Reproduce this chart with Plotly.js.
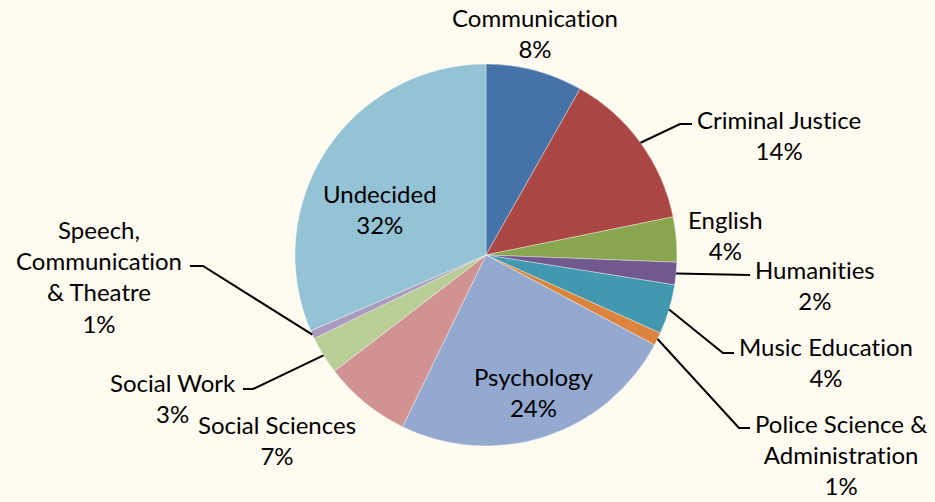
<!DOCTYPE html>
<html>
<head>
<meta charset="utf-8">
<script src="https://cdn.plot.ly/plotly-3.0.1.min.js"></script>
<style>html,body{margin:0;padding:0;background:#FFFBF0;}#chart{width:935px;height:502px;}
text{font-variant-ligatures:none;font-feature-settings:"liga" 0;}</style>
</head>
<body>
<div id="chart"></div>
<script>
// ---- data ----
var categories = ["Communication", "Criminal Justice", "English", "Humanities", "Music Education",
  "Police Science & Administration", "Psychology", "Social Sciences", "Social Work",
  "Speech, Communication & Theatre", "Undecided"];
var shares = [8.2, 13.6, 3.8, 1.9, 4.2, 1.1, 24.4, 7.4, 3.2, 0.7, 31.5];
var colors = ["#4572A7", "#AA4643", "#89A54E", "#71588F", "#4198AF", "#DB843D",
  "#93A9CF", "#D19392", "#B9CD96", "#A99BBD", "#93C3D5"];

// ---- layout (pixel geometry) ----
var W = 935, H = 502, CX = 486, CY = 255, R = 191;
var labelNames = ["Communication", "Criminal Justice", "English", "Humanities", "Music Education",
  "Police Science &<br>Administration", "Psychology", "Social Sciences", "Social Work",
  "Speech,<br>Communication<br>& Theatre", "Undecided"];
var labelPos = [[535, 33], [779, 134.5], [725, 235], [815, 285], [826, 362], [841, 454.5],
  [533, 391.5], [277, 440], [173, 398], [99, 276.5], [380, 209]];
// leader lines: index -> list of further points after the slice-edge anchor
var leaders = {
  1: [[680, 124], [692, 124]],
  3: [[750, 275]],
  4: [[723, 353], [734, 353]],
  5: [[739, 428], [750, 428]],
  8: [[253, 389], [243, 389]],
  9: [[203, 266], [190, 266]]
};

function px(x) { return x / W; }
function py(y) { return 1 - y / H; }

var total = shares.reduce(function (a, b) { return a + b; }, 0);
var annotations = [], shapes = [];
var cum = 0;
for (var i = 0; i < categories.length; i++) {
  var mid = (cum + shares[i] / 2) / total * 2 * Math.PI;
  cum += shares[i];
  var pct = Math.round(shares[i] / total * 100) + "%";
  annotations.push({
    xref: "paper", yref: "paper", x: px(labelPos[i][0]), y: py(labelPos[i][1]),
    xanchor: "center", yanchor: "middle", align: "center", showarrow: false,
    text: labelNames[i] + "<br>" + pct,
    font: {family: "Lato, 'Open Sans', sans-serif", size: 24, color: "#000000"}
  });
  if (leaders[i]) {
    var pts = [[CX + R * Math.sin(mid), CY - R * Math.cos(mid)]].concat(leaders[i]);
    var path = pts.map(function (p, k) { return (k ? "L" : "M") + px(p[0]) + "," + py(p[1]); }).join(" ");
    shapes.push({type: "path", xref: "paper", yref: "paper", path: path,
      line: {color: "#000000", width: 2}});
  }
}

var trace = {
  type: "pie",
  labels: categories,
  values: shares,
  sort: false,
  direction: "clockwise",
  rotation: 0,
  textinfo: "none",
  hoverinfo: "label+percent",
  marker: {colors: colors, line: {color: "rgba(255,255,255,0.6)", width: 0.6}},
  domain: {x: [px(CX - R), px(CX + R)], y: [py(CY + R), py(CY - R)]},
  showlegend: false
};

var layout = {
  width: W, height: H,
  margin: {l: 0, r: 0, t: 0, b: 0},
  paper_bgcolor: "#FFFBF0",
  plot_bgcolor: "#FFFBF0",
  showlegend: false,
  annotations: annotations,
  shapes: shapes
};

Plotly.newPlot("chart", [trace], layout, {displayModeBar: false, staticPlot: true});
</script>
</body>
</html>
